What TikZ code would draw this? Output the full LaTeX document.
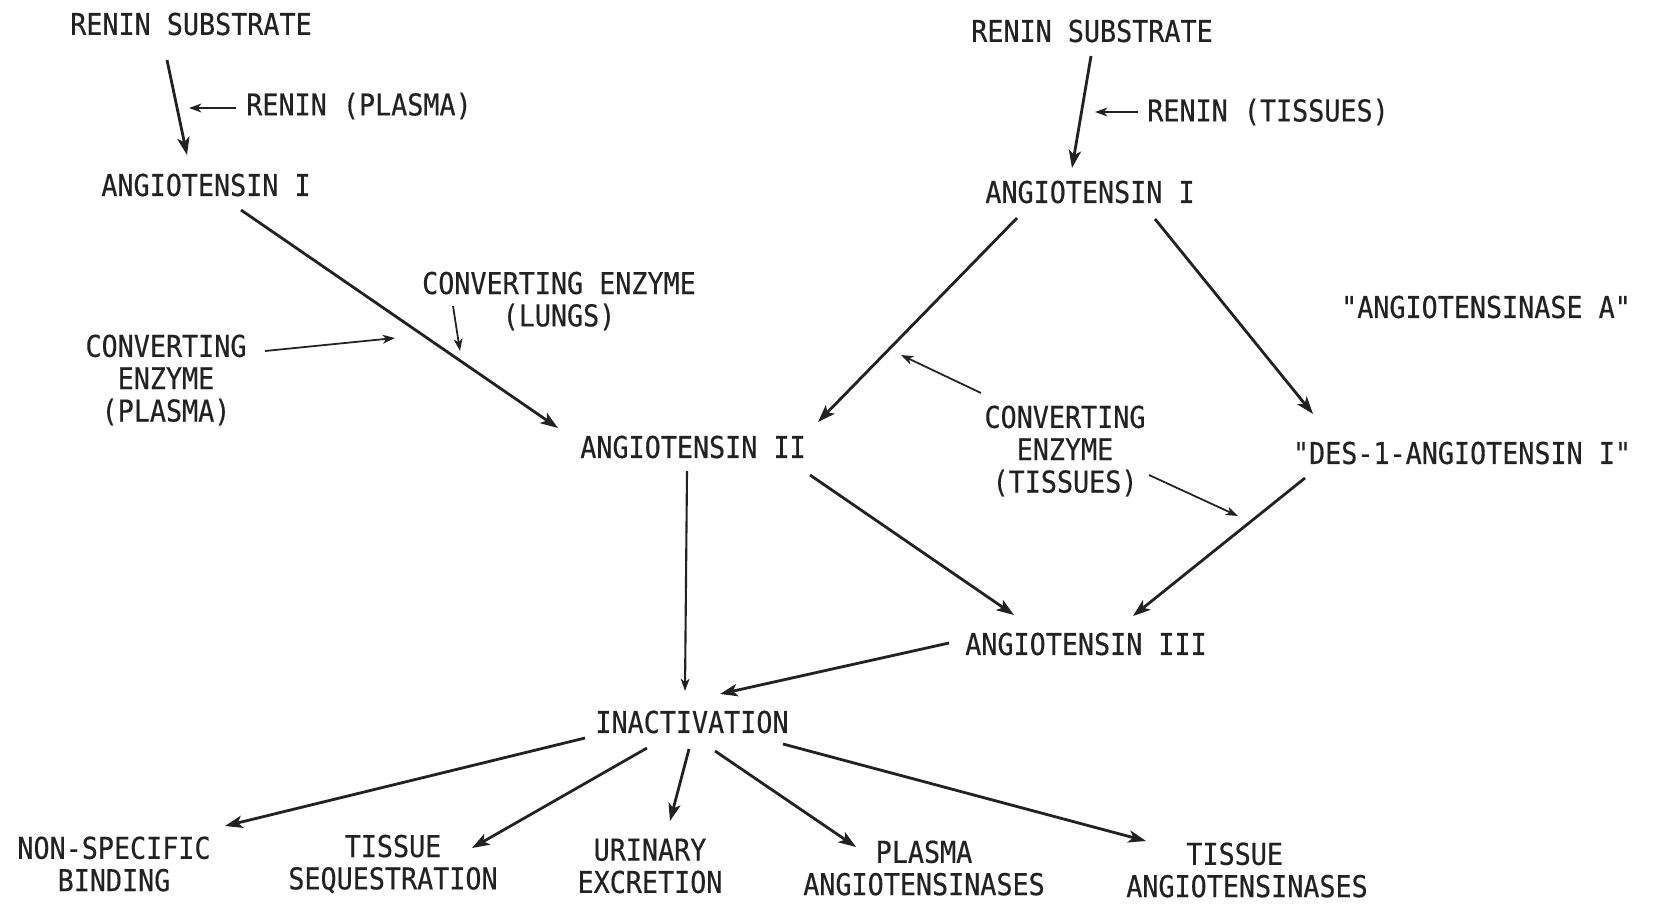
\documentclass[tikz,border=0pt]{standalone}
\usepackage{fontspec}
\setmainfont{DejaVu Sans Mono}[FakeStretch=0.89, FakeBold=0.4, Ligatures=TeXOff]
\usepackage{tikz}
\usetikzlibrary{calc,arrows.meta}
\definecolor{inkcol}{RGB}{34,34,34}
\tikzset{
  lbl/.style      = {inner sep=1pt, align=center, text=inkcol,
                     font=\fontsize{17.1pt}{18.4pt}\selectfont},
  mainarr/.style  = {draw=inkcol, line width=1.6pt,
                     -{Stealth[length=10pt, width=7pt, inset=2.5pt]}},
  thinarr/.style  = {draw=inkcol, line width=1pt,
                     -{Stealth[length=7pt, width=5pt, inset=2pt]}},
}

\begin{document}
\begin{tikzpicture}[x=0.02cm, y=-0.02cm]

  \path[use as bounding box, fill=white] (0,0) rectangle (1666,903);

  % ──────────────────────────────────────────────
  %  LEFT BRANCH (plasma)
  % ──────────────────────────────────────────────
  \node[lbl] (rsL)      at (191, 24)  {RENIN SUBSTRATE};
  \node[lbl] (reninP)   at (359,106)  {RENIN (PLASMA)};
  \node[lbl] (aiL)      at (206,185)  {ANGIOTENSIN I};
  \node[lbl] (ceLung)   at (559,301)  {CONVERTING ENZYME\\(LUNGS)};
  \node[lbl] (cePlasma) at (166,380)  {CONVERTING\\ENZYME\\(PLASMA)};
  \node[lbl] (aii)      at (693,447)  {ANGIOTENSIN II};

  % ──────────────────────────────────────────────
  %  RIGHT BRANCH (tissues)
  % ──────────────────────────────────────────────
  \node[lbl] (rsR)      at (1092, 31) {RENIN SUBSTRATE};
  \node[lbl] (reninT)   at (1268,112) {RENIN (TISSUES)};
  \node[lbl] (aiR)      at (1090,192) {ANGIOTENSIN I};
  \node[lbl] (angA)     at (1486,307) {"ANGIOTENSINASE A"};
  \node[lbl] (ceTis)    at (1065,451) {CONVERTING\\ENZYME\\(TISSUES)};
  \node[lbl] (des)      at (1462,453) {"DES-1-ANGIOTENSIN I"};
  \node[lbl] (aiii)     at (1086,644) {ANGIOTENSIN III};

  % ──────────────────────────────────────────────
  %  INACTIVATION + fates
  % ──────────────────────────────────────────────
  \node[lbl] (inact)    at (692,722)  {INACTIVATION};
  \node[lbl] (nsb)      at (114,864)  {NON-SPECIFIC\\BINDING};
  \node[lbl] (tseq)     at (393,864)  {TISSUE\\SEQUESTRATION};
  \node[lbl] (urin)     at (650,866)  {URINARY\\EXCRETION};
  \node[lbl] (pang)     at (924,868)  {PLASMA\\ANGIOTENSINASES};
  \node[lbl] (tang)     at (1247,870) {TISSUE\hspace*{14pt}\\ANGIOTENSINASES};

  % free ends of the enzyme arrows
  \coordinate (reninPtip) at (189,108);
  \coordinate (lungTip)   at (460,351);
  \coordinate (plasmaTip) at (395,338);
  \coordinate (reninTtip) at (1095,112);
  \coordinate (tisTipA)   at (901,355);
  \coordinate (tisTipB)   at (1238,516);

  % ── left conversions ──
  \draw[mainarr] ($(rsL)+(-24,36)$)  -- ($(aiL)+(-19,-30)$);
  \draw[thinarr] ($(reninP)+(-123,2)$) -- (reninPtip);
  \draw[mainarr] ($(aiL)+(35,25)$)   -- ($(aii)+(-135,-19)$);
  \draw[thinarr] ($(ceLung)+(-106,5)$) -- (lungTip);
  \draw[thinarr] ($(cePlasma)+(99,-29)$) -- (plasmaTip);

  % ── right conversions ──
  \draw[mainarr] ($(rsR)+(-1,25)$)   -- ($(aiR)+(-18,-24)$);
  \draw[thinarr] ($(reninT)+(-130,0)$) -- (reninTtip);
  \draw[mainarr] ($(aiR)+(-73,26)$)  -- ($(aii)+(125,-25)$);
  \draw[mainarr] ($(aiR)+(65,27)$)   -- ($(des)+(-149,-39)$);
  \draw[thinarr] ($(ceTis)+(-84,-58)$) -- (tisTipA);
  \draw[thinarr] ($(ceTis)+(84,24)$)   -- (tisTipB);
  \draw[mainarr] ($(des)+(-157,25)$) -- ($(aiii)+(47,-28)$);
  \draw[mainarr] ($(aii)+(117,28)$)  -- ($(aiii)+(-72,-29)$);

  % ── towards inactivation ──
  \draw[thinarr, line width=1.2pt] ($(aii)+(-6,24)$) -- ($(inact)+(-7,-31)$);
  \draw[mainarr] ($(aiii)+(-137,-1)$) -- ($(inact)+(28,-28)$);

  % ── fates ──
  \draw[mainarr] ($(inact)+(-107,16)$) -- ($(nsb)+(111,-38)$);
  \draw[mainarr] ($(inact)+(-45,26)$)  -- ($(tseq)+(79,-16)$);
  \draw[mainarr] ($(inact)+(-3,27)$)   -- ($(urin)+(20,-45)$);
  \draw[mainarr] ($(inact)+(23,29)$)   -- ($(pang)+(-68,-21)$);
  \draw[mainarr] ($(inact)+(91,22)$)   -- ($(tang)+(-101,-29)$);

\end{tikzpicture}
\end{document}
